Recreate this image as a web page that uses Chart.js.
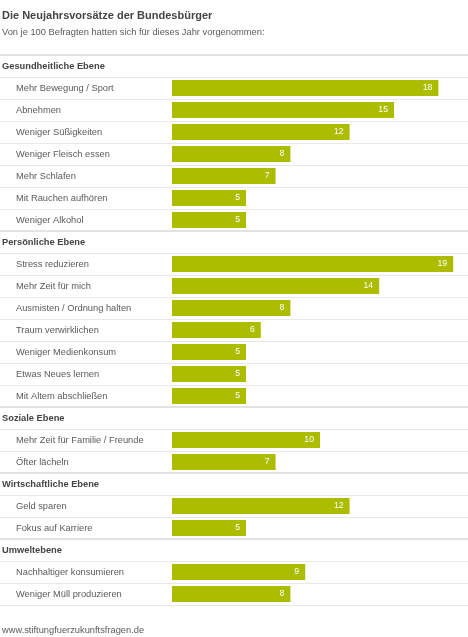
<!DOCTYPE html>
<html>
<head>
<meta charset="utf-8">
<script src="https://cdn.jsdelivr.net/npm/chart.js@4/dist/chart.umd.min.js"></script>
<style>
	body { margin: 0; background: #fff; font-family: "Liberation Sans", Arial, sans-serif; }
	#wrap { position: relative; width: 468px; height: 637px; }
	#wrap canvas { position: absolute; left: 0; top: 0; }
	.txt { position: absolute; left: 2px; white-space: nowrap; }
	#title { top: 9px; font-size: 11px; font-weight: bold; color: #444; }
	#subtitle { top: 27px; font-size: 9.3px; color: #5a5a5a; }
	#footer { top: 625px; font-size: 9.3px; color: #5a5a5a; }
</style>
</head>
<body>
<div id="wrap">
	<canvas id="chartResolutions"></canvas>
	<div class="txt" id="title">Die Neujahrsvorsätze der Bundesbürger</div>
	<div class="txt" id="subtitle">Von je 100 Befragten hatten sich für dieses Jahr vorgenommen:</div>
	<div class="txt" id="footer">www.stiftungfuerzukunftsfragen.de</div>
</div>
<script>
// Data
const groupNames = ["Gesundheitliche Ebene", "Persönliche Ebene", "Soziale Ebene", "Wirtschaftliche Ebene", "Umweltebene"];

const gesundheitLabels = ["Mehr Bewegung / Sport", "Abnehmen", "Weniger Süßigkeiten", "Weniger Fleisch essen", "Mehr Schlafen", "Mit Rauchen aufhören", "Weniger Alkohol"];
const gesundheitValues = [18, 15, 12, 8, 7, 5, 5];

const persoenlichLabels = ["Stress reduzieren", "Mehr Zeit für mich", "Ausmisten / Ordnung halten", "Traum verwirklichen", "Weniger Medienkonsum", "Etwas Neues lernen", "Mit Altem abschließen"];
const persoenlichValues = [19, 14, 8, 6, 5, 5, 5];

const sozialLabels = ["Mehr Zeit für Familie / Freunde", "Öfter lächeln"];
const sozialValues = [10, 7];

const wirtschaftLabels = ["Geld sparen", "Fokus auf Karriere"];
const wirtschaftValues = [12, 5];

const umweltLabels = ["Nachhaltiger konsumieren", "Weniger Müll produzieren"];
const umweltValues = [9, 8];

// Build rows: header row (no bar) followed by its items
const groupLabels = [gesundheitLabels, persoenlichLabels, sozialLabels, wirtschaftLabels, umweltLabels];
const groupValues = [gesundheitValues, persoenlichValues, sozialValues, wirtschaftValues, umweltValues];

let rowLabels = [];
let rowValues = [];
let rowIsHeader = [];
groupNames.forEach((name, g) => {
	rowLabels.push(name);
	rowValues.push(null);
	rowIsHeader.push(true);
	groupLabels[g].forEach((lbl, i) => {
		rowLabels.push(lbl);
		rowValues.push(groupValues[g][i]);
		rowIsHeader.push(false);
	});
});

const FONT = '"Liberation Sans", Arial, sans-serif';

// Row labels, separators and value labels
const tablePlugin = {
	id: "tablePlugin",
	beforeDatasetsDraw(chart) {
		const ctx = chart.ctx;
		const area = chart.chartArea;
		const yScale = chart.scales.y;
		const n = rowLabels.length;
		const rowH = (area.bottom - area.top) / n;

		ctx.save();
		// separators
		for (let i = 0; i <= n; i++) {
			const yy = Math.round(area.top + i * rowH);
			const thick = i === 0 || (i < n && rowIsHeader[i]);
			ctx.strokeStyle = thick ? "#e4e4e4" : "#e8e8e8";
			ctx.lineWidth = thick ? 2 : 1;
			ctx.beginPath();
			ctx.moveTo(0, thick ? yy : yy + 0.5);
			ctx.lineTo(chart.width, thick ? yy : yy + 0.5);
			ctx.stroke();
		}
		// row labels
		ctx.textBaseline = "middle";
		ctx.textAlign = "left";
		rowLabels.forEach((lbl, i) => {
			const yy = yScale.getPixelForValue(i);
			if (rowIsHeader[i]) {
				ctx.font = "bold 9.3px " + FONT;
				ctx.fillStyle = "#444";
				ctx.fillText(lbl, 2, yy);
			} else {
				ctx.font = "9.3px " + FONT;
				ctx.fillStyle = "#5a5a5a";
				ctx.fillText(lbl, 16, yy);
			}
		});
		ctx.restore();
	},
	afterDatasetsDraw(chart) {
		const ctx = chart.ctx;
		const meta = chart.getDatasetMeta(0);
		ctx.save();
		ctx.font = "8.7px " + FONT;
		ctx.fillStyle = "#fff";
		ctx.textAlign = "right";
		ctx.textBaseline = "middle";
		meta.data.forEach((bar, i) => {
			if (rowValues[i] === null) return;
			ctx.fillText(String(rowValues[i]), bar.x - 6, bar.y);
		});
		ctx.restore();
	},
};

new Chart(document.getElementById("chartResolutions"), {
	type: "bar",
	data: {
		labels: rowLabels,
		datasets: [
			{
				data: rowValues,
				backgroundColor: "#acbd00",
				borderWidth: 0,
				barPercentage: 0.72,
				categoryPercentage: 1,
			},
		],
	},
	options: {
		indexAxis: "y",
		responsive: true,
		maintainAspectRatio: false,
		animation: false,
		layout: { padding: { left: 172, right: 0, top: 55, bottom: 32 } },
		scales: {
			x: { display: false, min: 0, max: 20 },
			y: { display: false },
		},
		plugins: {
			legend: { display: false },
			tooltip: { enabled: false },
		},
	},
	plugins: [tablePlugin],
});
</script>
</body>
</html>
